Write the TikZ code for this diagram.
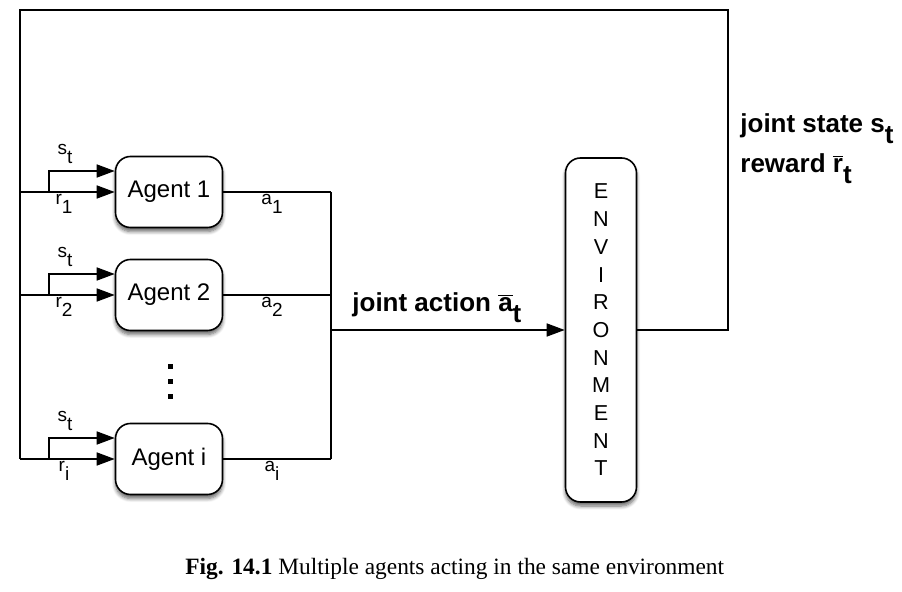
\documentclass[tikz,border=0pt]{standalone}
\usepackage{fontspec}
\setmainfont{Liberation Serif}
\setsansfont{Liberation Sans}
\usetikzlibrary{arrows.meta, positioning, shadows.blur}

\newcommand{\lo}[1]{\raisebox{-0.8ex}{#1}}
\newcommand{\ovl}[1]{$\overline{\mbox{#1}}$}

\begin{document}
\begin{tikzpicture}[
    x=0.5pt, y=-0.5pt,
    every node/.style={font=\sffamily},
    agent/.style={draw, line width=0.8pt, fill=white, rounded corners=7.5pt,
                  minimum width=53.5pt, minimum height=35.5pt, inner sep=0pt,
                  blur shadow={shadow xshift=0pt, shadow yshift=-2pt, shadow blur steps=6, shadow opacity=60},
                  font=\sffamily\fontsize{12}{14}\selectfont},
    envbox/.style={draw, line width=0.8pt, fill=white, rounded corners=7.5pt,
                   minimum width=35.5pt, minimum height=172pt, inner sep=0pt, align=center,
                   blur shadow={shadow xshift=0pt, shadow yshift=-2pt, shadow blur steps=6, shadow opacity=60},
                   font=\sffamily\fontsize{10.8}{13.85}\selectfont},
    lab/.style={inner sep=1pt, font=\sffamily\fontsize{9.5}{11}\selectfont},
    big/.style={inner sep=0pt, font=\sffamily\bfseries\fontsize{13}{15}\selectfont},
    ln/.style={line width=0.8pt},
    arr/.style={ln, -{Triangle[length=9pt, width=6.5pt]}},
  ]
    \useasboundingbox (0,0) rectangle (902,592);
    % agents
    \foreach \k/\y in {1/192, 2/295, i/459}{
      \node[agent] (agent\k) at (169,\y) {Agent \k};
      \coordinate (fb\k) at (20,\y);
      \coordinate (br\k) at (49,\y);
      \draw[arr] (fb\k) -- (agent\k.west);
      \draw[arr] (br\k) |- ([yshift=10.5pt]agent\k.west);
      \node[lab, anchor=base] at (65,\y-37) {s\lo{t}};
      \node[lab, anchor=base] at (64,\y+13) {r\lo{\k}};
      \node[lab, anchor=base] at (272,\y+13) {a\lo{\k}};
    }
    \foreach \y in {364,379,394}\fill (167.5,\y) rectangle (172.5,\y+5);
    % environment
    \node[envbox] (env) at (601,330) {E\\N\\V\\I\\R\\O\\N\\M\\E\\N\\T};
    \coordinate (bus) at (331,330);
    \foreach \k in {1,2,i}\draw[ln] (agent\k.east) -- (agent\k.east -| bus);
    \draw[ln] (agent1.east -| bus) -- (agenti.east -| bus);
    \draw[arr] (bus) -- (env.west);
    \node[big, anchor=base west] (jaction) at (352,312) {joint action \ovl{a}\lo{t}};
    % feedback loop
    \coordinate (ne) at (728,10);
    \coordinate (nw) at (20,10);
    \draw[ln] (env.east) -| (ne) -- (nw) -- (fbi);
    \node[big, anchor=base west] (jstate) at (740,133) {joint state s\lo{t}};
    \node[big, anchor=base west] (reward) at (740,173) {reward \ovl{r}\lo{t}};
    % caption
    \node[anchor=base west, inner sep=0pt, font=\rmfamily\fontsize{11.7}{14}\selectfont] (caption) at (185,575)
      {\textbf{Fig. 14.1} Multiple agents acting in the same environment};
  \end{tikzpicture}
\end{document}
